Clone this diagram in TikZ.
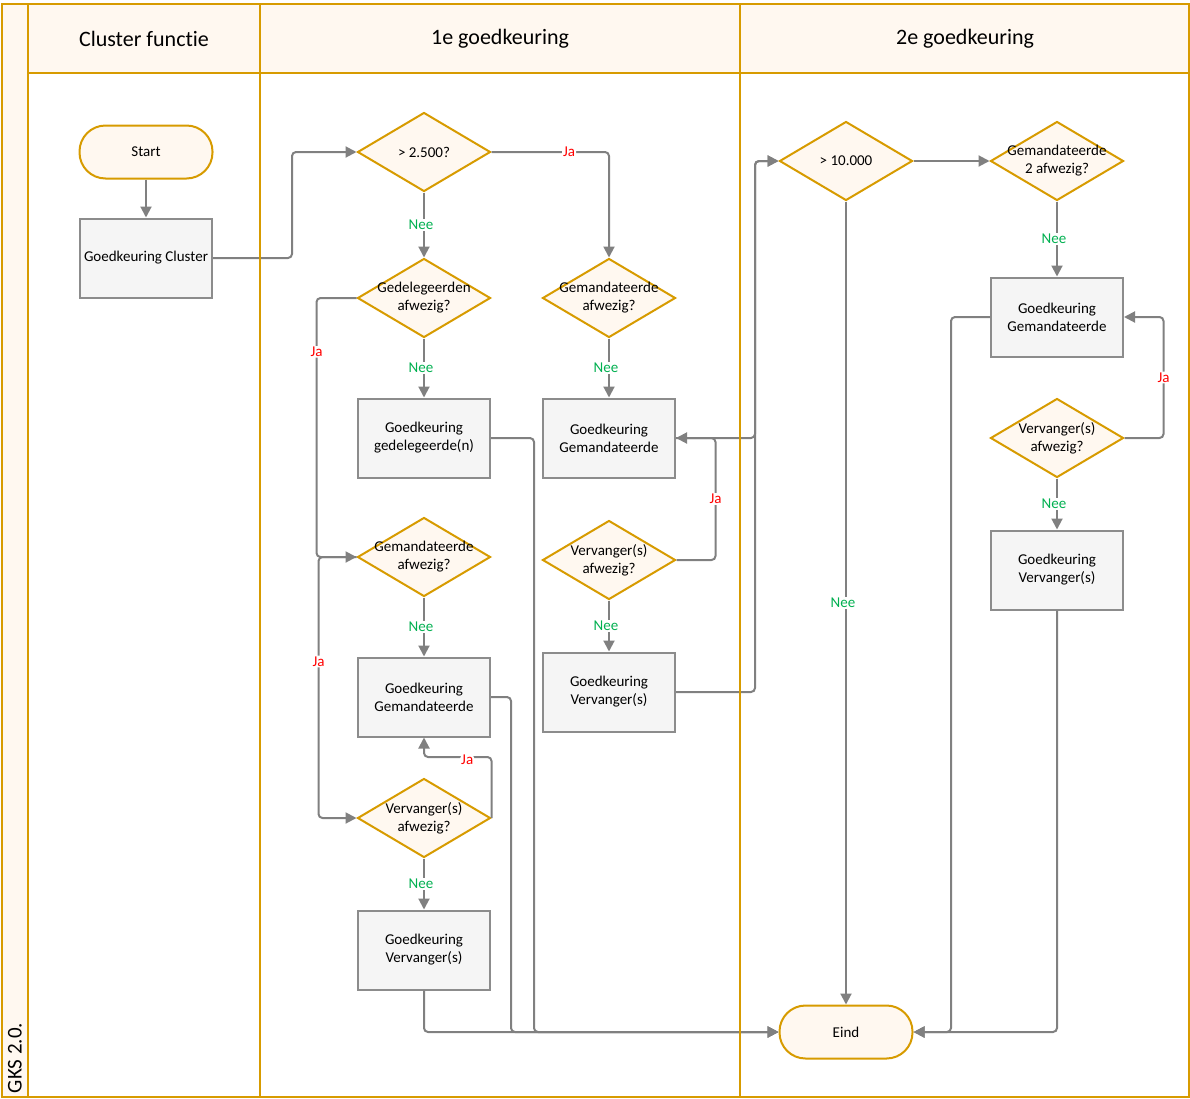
\documentclass[tikz,border=0pt]{standalone}
\usepackage{fontspec}
\setmainfont[Ligatures={NoCommon}]{Carlito}
\usetikzlibrary{arrows.meta,shapes.geometric}
\definecolor{gold}{HTML}{D79B00}
\definecolor{cream}{HTML}{FFF8F0}
\definecolor{boxfill}{HTML}{F5F5F5}
\definecolor{boxline}{HTML}{8C8C8C}
\definecolor{conn}{HTML}{808080}
\definecolor{neegreen}{HTML}{00B050}
\definecolor{jared}{HTML}{FF0000}
\tikzset{
  lane/.style={draw=gold, line width=2pt},
  hdr/.style={font=\fontsize{22}{26}\selectfont},
  term/.style={draw=gold, fill=cream, line width=2pt, rounded corners=26pt,
    minimum width=133pt, minimum height=53pt, inner sep=0pt,
    font=\fontsize{15}{18}\selectfont},
  proc/.style={draw=boxline, fill=boxfill, line width=2pt, minimum width=132pt,
    minimum height=79pt, inner sep=0pt, align=center,
    font=\fontsize{15}{18}\selectfont},
  dec/.style={diamond, draw=gold, fill=cream, line width=2pt, minimum width=133pt,
    minimum height=79pt, inner sep=0pt},
  dlbl/.style={align=center, inner sep=0pt, font=\fontsize{15}{18}\selectfont},
  arr/.style={draw=conn, line width=2pt, rounded corners=4pt,
    -{Triangle[length=11pt,width=11pt]}},
  nee/.style={fill=white, inner sep=1pt, xshift=-3pt, text=neegreen, font=\fontsize{15}{16}\selectfont},
  ja/.style={fill=white, inner sep=1pt, text=jared, font=\fontsize{15}{16}\selectfont},
}
\begin{document}
\begin{tikzpicture}[x=1pt,y=-1pt]
\useasboundingbox (0,0) rectangle (1190,1098);
% backgrounds
\fill[cream] (2,4) rectangle (28,1097);
\fill[cream] (28,4) rectangle (1189,73);
\node[hdr] (h1) at (144,39) {Cluster functie};
\node[hdr] (h2) at (500,39) {1e goedkeuring};
\node[hdr] (h3) at (965,39) {2e goedkeuring};
\node[rotate=90, font=\fontsize{21}{24}\selectfont] (gks) at (15,1058) {GKS 2.0.};

% nodes
\node[term] (start) at (146,152) {Start};
\node[proc] (clus) at (146,258) {Goedkeuring Cluster};
\node[dec, label={[dlbl]center:{> 2.500?}}] (d1) at (424,152) {};
\node[dec, label={[dlbl]center:{Gedelegeerden\\afwezig?}}] (d2) at (424,298) {};
\node[dec, label={[dlbl]center:{Gemandateerde\\afwezig?}}] (d3) at (609,298) {};
\node[proc] (r1) at (424,438) {Goedkeuring\\gedelegeerde(n)};
\node[proc] (r2) at (609,438) {Goedkeuring\\Gemandateerde};
\node[dec, label={[dlbl]center:{Gemandateerde\\afwezig?}}] (d4) at (424,557) {};
\node[dec, label={[dlbl]center:{Vervanger(s)\\afwezig?}}] (d5) at (609,560) {};
\node[proc] (r3) at (424,697) {Goedkeuring\\Gemandateerde};
\node[proc] (r4) at (609,692) {Goedkeuring\\Vervanger(s)};
\node[dec, label={[dlbl]center:{Vervanger(s)\\afwezig?}}] (d6) at (424,818) {};
\node[proc] (r5) at (424,950) {Goedkeuring\\Vervanger(s)};
\node[dec, label={[dlbl]center:{> 10.000}}] (d7) at (846,161) {};
\node[dec, label={[dlbl]center:{Gemandateerde\\2 afwezig?}}] (d8) at (1057,161) {};
\node[proc] (r6) at (1057,317) {Goedkeuring\\Gemandateerde};
\node[dec, label={[dlbl]center:{Vervanger(s)\\afwezig?}}] (d9) at (1057,438) {};
\node[proc] (r7) at (1057,570) {Goedkeuring\\Vervanger(s)};
\node[term] (eind) at (846,1032) {Eind};

% connectors
\draw[arr] (start) -- (clus);
\draw[arr] (clus.east) -- ++(79,0) |- (d1.west);
\draw[arr] (d1.east) -| node[ja,pos=0.33]{Ja} (d3.north);
\draw[arr] (d1.south) -- node[nee]{Nee} (d2.north);
\draw[arr] (d2.south) -- node[nee]{Nee} (r1.north);
\draw[arr] (d3.south) -- node[nee]{Nee} (r2.north);
\draw[arr] (d4.west) -- ++(-38,0) |- node[ja,pos=0.2]{Ja} (d6.west);
\draw[arr] (d2.west) -- ++(-40,0) |- node[ja,pos=0.104]{Ja} (d4.west);
\draw[arr] (d4.south) -- node[nee]{Nee} (r3.north);
\draw[arr] (d6.east) -- ++(0,-61) -| node[ja,pos=0.18,yshift=-3pt]{Ja} (r3.south);
\draw[arr] (d6.south) -- node[nee]{Nee} (r5.north);
\draw[arr] (r5.south) |- (eind.west);
\draw[arr] (r3.east) -- ++(20,0) |- (eind.west);
\draw[arr] (r1.east) -- ++(43,0) |- (eind.west);
\draw[arr] (r2.east) -- ++(79,0) |- (d7.west);
\draw[arr] (r4.east) -- ++(79,0) |- (d7.west);
\draw[arr] (d5.east) -- ++(39,0) |- node[ja,pos=0.25]{Ja} (r2.east);
\draw[arr] (d5.south) -- node[nee]{Nee} (r4.north);
\draw[arr] (d7.east) -- (d8.west);
\draw[arr] (d7.south) -- node[nee,pos=0.5]{Nee} (eind.north);
\draw[arr] (d8.south) -- node[nee]{Nee} (r6.north);
\draw[arr] (d9.east) -- ++(39,0) |- node[ja,pos=0.25]{Ja} (r6.east);
\draw[arr] (d9.south) -- node[nee]{Nee} (r7.north);
\draw[arr] (r6.west) -- ++(-39,0) |- (eind.east);
\draw[arr] (r7.south) |- (eind.east);

% lane lines
\draw[lane] (2,4) rectangle (1189,1097);
\draw[lane] (28,4) -- (28,1097);
\draw[lane] (260,4) -- (260,1097);
\draw[lane] (740,4) -- (740,1097);
\draw[lane] (28,73) -- (1189,73);
\end{tikzpicture}
\end{document}
